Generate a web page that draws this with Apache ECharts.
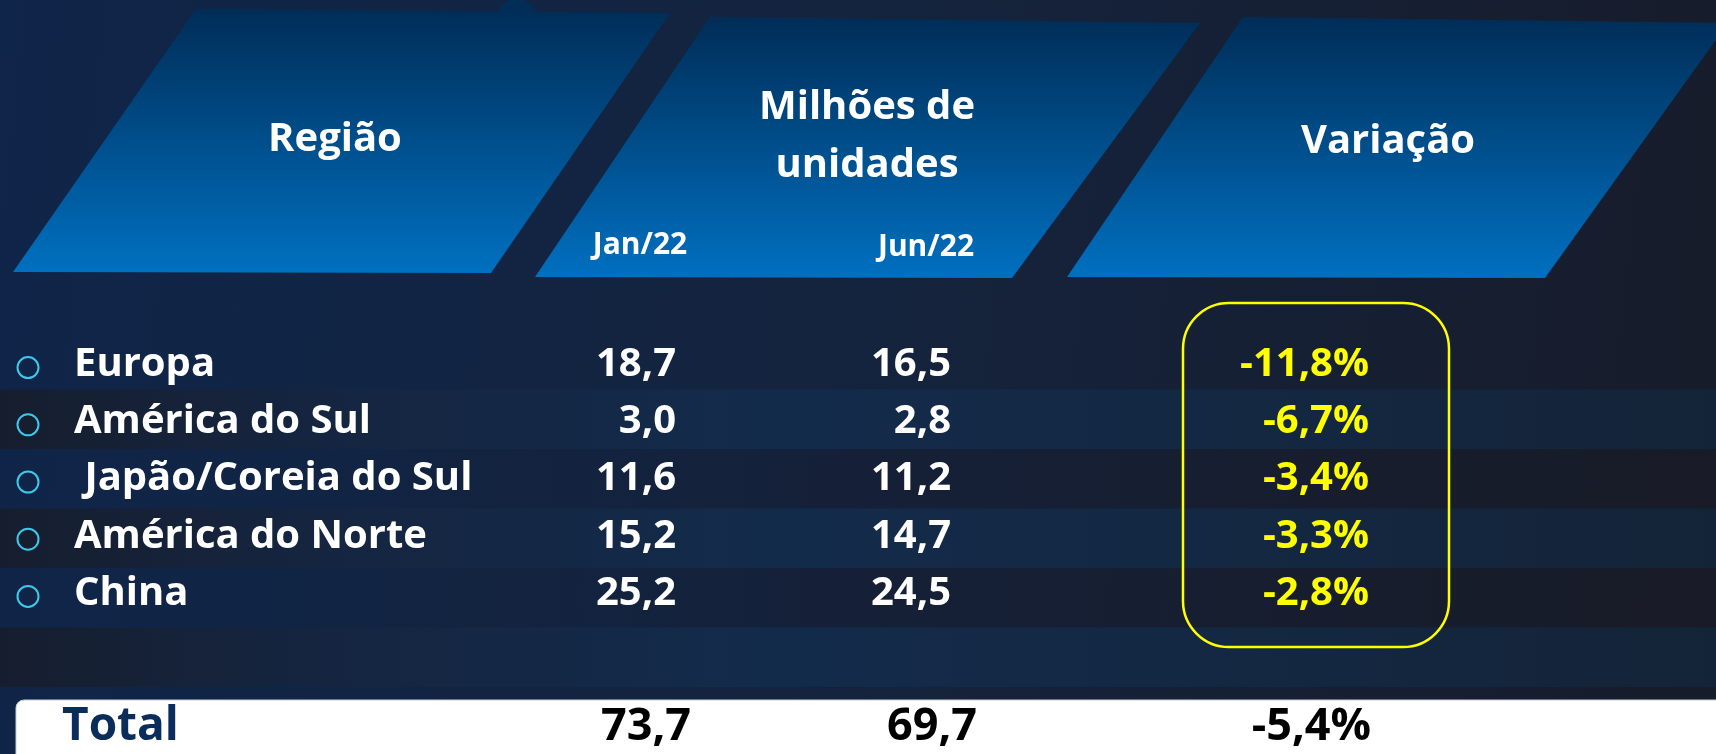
<!DOCTYPE html>
<html>
<head>
<meta charset="utf-8">
<script src="https://cdn.jsdelivr.net/npm/echarts@6/dist/echarts.min.js"></script>
<style>
html,body{margin:0;padding:0;background:#13213c;}
#chart{width:1716px;height:754px;}
</style>
</head>
<body>
<div id="chart"></div>
<script>
// ---- data ----
const regions = ['Europa', 'América do Sul', ' Japão/Coreia do Sul', 'América do Norte', 'China'];
const jan22 = [18.7, 3.0, 11.6, 15.2, 25.2];
const jun22 = [16.5, 2.8, 11.2, 14.7, 24.5];
const variacao = [-11.8, -6.7, -3.4, -3.3, -2.8];
const totalLabel = ['Total'];
const totalJan = [73.7];
const totalJun = [69.7];
const totalVar = [-5.4];
const headerRegion = 'Região';
const headerUnits = 'Milhões de\nunidades';
const headerPeriods = ['Jan/22', 'Jun/22'];
const headerVar = 'Variação';

// ---- layout (positions only) ----
const COL = { bullet: 28, name: 74, jan: 676, jun: 951, vr: 1369 };
const TCOL = { name: 62, jan: 691, jun: 977, vr: 1371 };
const bandRows = regions.concat(['']);
const FONT = '"Open Sans", "Noto Sans", sans-serif';
const fmt = v => v.toFixed(1).replace('.', ',');

const headGrad = { type: 'linear', x: 0, y: 0, x2: 0, y2: 1,
  colorStops: [{ offset: 0, color: '#002d57' }, { offset: 1, color: '#0070c0' }] };
const lightBand = { type: 'linear', x: 0, y: 0, x2: 1, y2: 0,
  colorStops: [{ offset: 0, color: '#161e2e' }, { offset: 0.18, color: '#152540' },
    { offset: 0.45, color: '#132b4b' }, { offset: 1, color: '#142438' }] };
const darkBand = { type: 'linear', x: 0, y: 0, x2: 1, y2: 0,
  colorStops: [{ offset: 0, color: 'rgba(15,37,72,0)' }, { offset: 0.5, color: 'rgba(22,26,45,0.35)' },
    { offset: 1, color: 'rgba(26,27,34,0.45)' }] };

function textSeries(name, data, gridIdx, pos, color, size, fmtFn) {
  return {
    name, type: 'scatter', xAxisIndex: gridIdx, yAxisIndex: gridIdx,
    data, symbolSize: 0, silent: true, z: 5,
    itemStyle: { opacity: 1 },
    label: { show: true, position: pos, distance: 0, color, opacity: 1, fontFamily: FONT,
      fontWeight: 'bold', fontSize: size, formatter: fmtFn }
  };
}

const chart = echarts.init(document.getElementById('chart'));
chart.setOption({
  animation: false,
  backgroundColor: { type: 'linear', x: 0, y: 0, x2: 1, y2: 0.25,
    colorStops: [{ offset: 0, color: '#0f2549' }, { offset: 0.47, color: '#14243f' }, { offset: 1, color: '#171c2b' }] },
  grid: [
    { left: 0, right: 0, top: 330, height: 357 },
    { left: 0, right: 0, top: 336, height: 286 },
    { left: 0, right: 0, top: 700, height: 54 }
  ],
  xAxis: [
    { type: 'value', min: 0, max: 1716, show: false, gridIndex: 0 },
    { type: 'value', min: 0, max: 1716, show: false, gridIndex: 1 },
    { type: 'value', min: 0, max: 1716, show: false, gridIndex: 2 }
  ],
  yAxis: [
    { type: 'category', data: bandRows, inverse: true, gridIndex: 0,
      axisLine: { show: false }, axisTick: { show: false }, axisLabel: { show: false },
      splitLine: { show: false },
      splitArea: { show: true, areaStyle: { color: ['rgba(0,0,0,0)', lightBand, darkBand, lightBand, darkBand, lightBand] } } },
    { type: 'category', data: regions, inverse: true, gridIndex: 1, show: false },
    { type: 'category', data: totalLabel, gridIndex: 2, show: false }
  ],
  graphic: [
    { type: 'circle', shape: { cx: 517, cy: 20, r: 21 }, style: { fill: '#012d57' }, z: 1 },
    { type: 'polygon', shape: { points: [[196, 9], [670, 13], [491, 273], [13, 272]] }, style: { fill: headGrad }, z: 2 },
    { type: 'polygon', shape: { points: [[710, 17], [1200, 23], [1012, 278], [535, 277]] }, style: { fill: headGrad }, z: 2 },
    { type: 'polygon', shape: { points: [[1243, 17], [1728, 23], [1545, 278], [1067, 277]] }, style: { fill: headGrad }, z: 2 },
    { type: 'text', x: 335, y: 140, z: 3, style: { text: headerRegion, fill: '#fff', font: 'bold 40px ' + FONT, textAlign: 'center', textVerticalAlign: 'middle', align: 'center', verticalAlign: 'middle' } },
    { type: 'text', x: 867, y: 137, z: 3, style: { text: headerUnits, fill: '#fff', font: 'bold 40px ' + FONT, lineHeight: 58, textAlign: 'center', textVerticalAlign: 'middle', align: 'center', verticalAlign: 'middle' } },
    { type: 'text', x: 640, y: 245, z: 3, style: { text: headerPeriods[0], fill: '#fff', font: 'bold 30px ' + FONT, textAlign: 'center', textVerticalAlign: 'middle', align: 'center', verticalAlign: 'middle' } },
    { type: 'text', x: 926, y: 247, z: 3, style: { text: headerPeriods[1], fill: '#fff', font: 'bold 30px ' + FONT, textAlign: 'center', textVerticalAlign: 'middle', align: 'center', verticalAlign: 'middle' } },
    { type: 'text', x: 1388, y: 142, z: 3, style: { text: headerVar, fill: '#fff', font: 'bold 40px ' + FONT, textAlign: 'center', textVerticalAlign: 'middle', align: 'center', verticalAlign: 'middle' } },
    { type: 'rect', shape: { x: 1183, y: 303, width: 266, height: 344, r: 46 }, style: { fill: 'none', stroke: '#ffff00', lineWidth: 2.5 }, z: 10 },
    { type: 'rect', shape: { x: 16, y: 700, width: 1710, height: 60, r: [8, 0, 0, 0] }, style: { fill: '#ffffff', stroke: '#c9ced6', lineWidth: 1 }, z: 1 }
  ],
  series: [
    { name: 'bullets', type: 'scatter', xAxisIndex: 1, yAxisIndex: 1, silent: true, z: 5,
      data: regions.map(r => [COL.bullet, r]), symbol: 'circle', symbolSize: 21, symbolOffset: [0, 3],
      itemStyle: { color: 'rgba(0,0,0,0)', borderColor: '#3ec8ea', borderWidth: 2, opacity: 1 } },
    textSeries('Região', regions.map(r => [COL.name, r]), 1, 'right', '#ffffff', 40, p => p.value[1]),
    textSeries('Jan/22', jan22.map((v, i) => [COL.jan, regions[i], v]), 1, 'left', '#ffffff', 40, p => fmt(p.value[2])),
    textSeries('Jun/22', jun22.map((v, i) => [COL.jun, regions[i], v]), 1, 'left', '#ffffff', 40, p => fmt(p.value[2])),
    textSeries('Variação', variacao.map((v, i) => [COL.vr, regions[i], v]), 1, 'left', '#ffff00', 40, p => fmt(p.value[2]) + '%'),
    textSeries('TotalName', totalLabel.map(r => [TCOL.name, r]), 2, 'right', '#0b2d5b', 46, p => p.value[1]),
    textSeries('TotalJan', totalJan.map(v => [TCOL.jan, totalLabel[0], v]), 2, 'left', '#000000', 45, p => fmt(p.value[2])),
    textSeries('TotalJun', totalJun.map(v => [TCOL.jun, totalLabel[0], v]), 2, 'left', '#000000', 45, p => fmt(p.value[2])),
    textSeries('TotalVar', totalVar.map(v => [TCOL.vr, totalLabel[0], v]), 2, 'left', '#000000', 45, p => fmt(p.value[2]) + '%')
  ]
});
</script>
</body>
</html>
